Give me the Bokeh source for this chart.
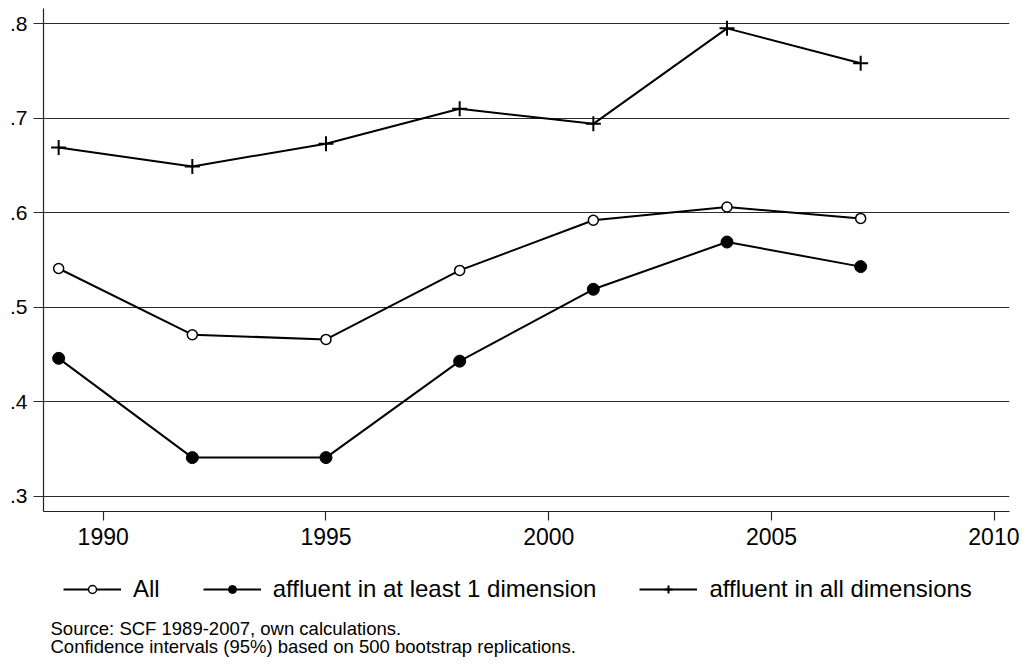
from bokeh.plotting import figure
from bokeh.layouts import column
from bokeh.models import Range1d, FixedTicker, Legend, LegendItem, Label, CustomJSTickFormatter
from bokeh.embed import file_html
from bokeh.resources import INLINE

# ---- data ----
years = [1989, 1992, 1995, 1998, 2001, 2004, 2007]
share_all = [0.541, 0.471, 0.466, 0.539, 0.592, 0.606, 0.594]
share_affluent_one = [0.446, 0.341, 0.341, 0.443, 0.519, 0.569, 0.543]
share_affluent_all = [0.669, 0.649, 0.673, 0.710, 0.694, 0.795, 0.758]

series_labels = ["All", "affluent in at least 1 dimension", "affluent in all dimensions"]
x_ticks = [1990, 1995, 2000, 2005, 2010]
y_ticks = [0.3, 0.4, 0.5, 0.6, 0.7, 0.8]
source_lines = ["Source: SCF 1989-2007, own calculations.",
                "Confidence intervals (95%) based on 500 bootstrap replications."]

FONT = "Liberation Sans"
W = 1019
TOP_H = 556
BOT_H = 104

# ---------------- main chart ----------------
p = figure(width=W, height=TOP_H, output_backend="svg", toolbar_location=None,
           x_range=Range1d(1988.66, 2010.34), y_range=Range1d(0.284, 0.816),
           min_border_left=43, min_border_right=10, min_border_top=8, min_border_bottom=45)
p.outline_line_color = None
p.background_fill_color = "white"
p.border_fill_color = "white"

p.xgrid.visible = False
p.ygrid.ticker = FixedTicker(ticks=y_ticks)
p.ygrid.grid_line_color = "#2a2a2a"
p.ygrid.grid_line_width = 1.2

p.xaxis.ticker = FixedTicker(ticks=x_ticks)
p.yaxis.ticker = FixedTicker(ticks=y_ticks)
p.yaxis.formatter = CustomJSTickFormatter(code="return tick.toFixed(1).replace(/^0/, '');")
for ax in (p.xaxis[0], p.yaxis[0]):
    ax.axis_line_color = "#222222"
    ax.axis_line_width = 1.2
    ax.major_tick_line_color = "#2a2a2a"
    ax.major_tick_line_width = 1.2
    ax.major_tick_in = 0
    ax.minor_tick_line_color = None
    ax.major_label_text_font = FONT
    ax.major_label_text_color = "black"
p.yaxis.major_tick_out = 10
p.yaxis.major_label_standoff = 6
p.yaxis.major_label_text_font_size = "21px"
p.xaxis.major_tick_out = 9
p.xaxis.major_label_standoff = 7
p.xaxis.major_label_text_font_size = "23px"

styles = [
    dict(marker="circle", size=10, fill_color="white", line_color="black", line_width=1.5),
    dict(marker="circle", size=12, fill_color="black", line_color="black", line_width=1),
    dict(marker="cross", size=15, line_color="black", line_width=2),
]
series = [share_all, share_affluent_one, share_affluent_all]

for ys, st in zip(series, styles):
    p.line(years, ys, line_color="black", line_width=2)
    p.scatter(years, ys, **st)

# ---------------- legend + source notes ----------------
q = figure(width=W, height=BOT_H, output_backend="svg", toolbar_location=None,
           x_axis_type=None, y_axis_type=None,
           x_range=Range1d(0, 1), y_range=Range1d(0, 1),
           min_border_left=0, min_border_right=0, min_border_top=0, min_border_bottom=0)
q.outline_line_color = None
q.xgrid.visible = False
q.ygrid.visible = False
q.background_fill_color = "white"
q.border_fill_color = "white"

# legend keys: same series, styled identically (data lies outside this panel's view)
items = []
for lab, ys, st in zip(series_labels, series, styles):
    lr = q.line(years, ys, line_color="black", line_width=2)
    mr = q.scatter(years, ys, **st)
    items.append(LegendItem(label=lab, renderers=[lr, mr]))

legend = Legend(items=items, orientation="horizontal", location=(20, 57), margin=0, padding=0,
                spacing=43, glyph_width=58, glyph_height=20, label_standoff=12,
                label_text_font=FONT, label_text_font_size="24px", label_text_color="black",
                border_line_color=None, background_fill_alpha=0)
q.add_layout(legend, "center")

for txt, yb in zip(source_lines, [32, 14]):
    q.add_layout(Label(x=7, y=yb, x_units="screen", y_units="screen", text=txt,
                       text_font=FONT, text_font_size="18.5px", text_color="black",
                       text_baseline="alphabetic", text_align="left"))

layout = column(p, q, spacing=0)
open("out.html", "w").write(file_html(layout, INLINE))
